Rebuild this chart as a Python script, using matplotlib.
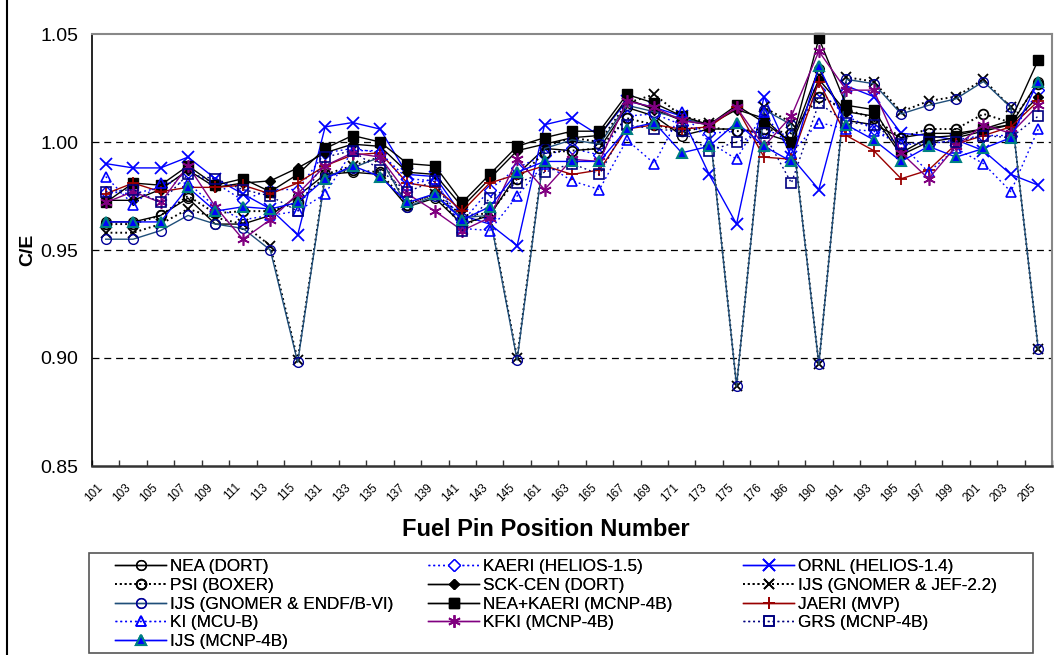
import matplotlib
matplotlib.use('Agg')
import matplotlib.pyplot as plt
from matplotlib.lines import Line2D
from matplotlib.patches import Rectangle

plt.rcParams['font.family'] = ['Liberation Sans', 'DejaVu Sans']
plt.rcParams['lines.scale_dashes'] = False

pins = ['101', '103', '105', '107', '109', '111', '113', '115', '131', '133', '135', '137',
        '139', '141', '143', '145', '161', '163', '165', '167', '169', '171', '173', '175',
        '176', '186', '190', '191', '193', '195', '197', '199', '201', '203', '205']

nea_dort = [0.963, 0.963, 0.966, 0.974, 0.962, 0.962, 0.966, 0.975, 0.985, 0.986, 0.985, 0.970,
            0.974, 0.962, 0.966, 0.985, 0.997, 0.996, 0.997, 1.016, 1.012, 1.003, 1.006, 1.006,
            1.004, 1.000, 1.034, 1.010, 1.008, 1.002, 1.004, 1.004, 1.006, 1.008, 1.028]
kaeri_helios = [0.977, 0.976, 0.979, 0.986, 0.981, 0.973, 0.978, 0.978, 0.995, 0.997, 0.995, 0.983,
                0.982, 0.963, 0.978, 0.988, 0.994, 0.997, 0.994, 1.012, 1.013, 1.008, 1.004, 1.005,
                1.005, 1.003, 1.024, 1.012, 1.006, 0.999, 0.999, 1.001, 1.003, 1.003, 1.024]
ornl_helios = [0.990, 0.988, 0.988, 0.993, 0.983, 0.976, 0.969, 0.957, 1.007, 1.009, 1.006, 0.985,
               0.984, 0.966, 0.962, 0.952, 1.008, 1.011, 1.003, 1.019, 1.016, 1.012, 0.985, 0.962,
               1.021, 0.993, 0.978, 1.026, 1.021, 1.004, 1.003, 1.001, 0.996, 0.985, 0.980]
psi_boxer = [0.962, 0.962, 0.966, 0.975, 0.967, 0.968, 0.968, 0.972, 0.984, 0.987, 0.986, 0.971,
             0.976, 0.961, 0.967, 0.983, 0.995, 0.996, 0.997, 1.011, 1.008, 1.005, 1.007, 1.005,
             1.006, 1.004, 1.021, 1.015, 1.011, 1.002, 1.006, 1.006, 1.013, 1.009, 1.027]
sck_dort = [0.973, 0.973, 0.978, 0.987, 0.979, 0.981, 0.982, 0.988, 0.995, 0.999, 0.998, 0.986,
            0.985, 0.970, 0.983, 0.996, 0.999, 1.002, 1.003, 1.020, 1.015, 1.010, 1.008, 1.015,
            1.011, 0.999, 1.029, 1.014, 1.012, 0.994, 1.000, 1.002, 1.005, 1.008, 1.021]
ijs_jef = [0.958, 0.958, 0.962, 0.969, 0.965, 0.962, 0.952, 0.899, 0.985, 0.989, 0.993, 0.971,
           0.976, 0.966, 0.967, 0.900, 0.998, 1.002, 1.000, 1.018, 1.022, 1.012, 1.009, 0.887,
           1.016, 1.009, 0.897, 1.030, 1.028, 1.014, 1.019, 1.021, 1.029, 1.016, 0.904]
ijs_endf = [0.955, 0.955, 0.959, 0.966, 0.962, 0.960, 0.950, 0.898, 0.984, 0.988, 0.993, 0.970,
            0.975, 0.965, 0.966, 0.899, 0.997, 1.001, 0.999, 1.017, 1.014, 1.011, 1.008, 0.887,
            1.015, 1.008, 0.897, 1.029, 1.027, 1.013, 1.017, 1.020, 1.028, 1.016, 0.904]
nea_kaeri = [0.972, 0.981, 0.980, 0.989, 0.980, 0.983, 0.977, 0.985, 0.997, 1.003, 1.000, 0.990,
             0.989, 0.972, 0.985, 0.998, 1.002, 1.005, 1.005, 1.022, 1.018, 1.012, 1.008, 1.017,
             1.009, 1.000, 1.048, 1.017, 1.015, 0.995, 1.002, 1.003, 1.006, 1.010, 1.038]
jaeri_mvp = [0.976, 0.981, 0.977, 0.979, 0.979, 0.980, 0.976, 0.981, 0.989, 0.994, 0.995, 0.981,
             0.979, 0.968, 0.981, 0.985, 0.989, 0.985, 0.987, 1.006, 1.008, 1.006, 1.007, 1.016,
             0.993, 0.992, 1.028, 1.003, 0.996, 0.983, 0.987, 0.999, 1.003, 1.007, 1.019]
ki_mcu = [0.984, 0.971, 0.981, 0.981, 0.970, 0.964, 0.966, 0.968, 0.976, 0.996, 0.996, 0.980,
          0.983, 0.960, 0.959, 0.975, 0.990, 0.982, 0.978, 1.001, 0.990, 1.014, 1.000, 0.992,
          1.014, 0.995, 1.009, 1.006, 1.005, 0.999, 0.986, 0.997, 0.990, 0.977, 1.006]
kfki_mcnp = [0.972, 0.977, 0.972, 0.989, 0.970, 0.955, 0.964, 0.976, 0.989, 0.995, 0.993, 0.976,
             0.968, 0.959, 0.965, 0.992, 0.978, 0.992, 0.991, 1.019, 1.016, 1.010, 1.008, 1.016,
             0.998, 1.012, 1.042, 1.024, 1.024, 0.995, 0.983, 0.998, 1.008, 1.004, 1.017]
grs_mcnp = [0.977, 0.978, 0.972, 0.985, 0.983, 0.978, 0.975, 0.968, 0.993, 0.996, 0.987, 0.977,
            0.982, 0.959, 0.974, 0.981, 0.986, 0.990, 0.985, 1.008, 1.006, 1.005, 0.996, 1.000,
            1.004, 0.981, 1.018, 1.009, 1.008, 0.999, 1.000, 1.000, 1.003, 1.002, 1.012]
ijs_mcnp = [0.963, 0.963, 0.963, 0.979, 0.968, 0.970, 0.969, 0.972, 0.983, 0.989, 0.984, 0.972,
            0.976, 0.964, 0.970, 0.986, 0.991, 0.991, 0.991, 1.006, 1.009, 0.995, 0.998, 1.009,
            0.998, 0.991, 1.035, 1.008, 1.001, 0.991, 0.998, 0.993, 0.997, 1.002, 1.028]

dot = (0, (1.3, 2.2))
styles = {
    'NEA (DORT)': (nea_dort, dict(color='black', ls='-', marker='o', mfc='none', mec='black', ms=7)),
    'KAERI (HELIOS-1.5)': (kaeri_helios, dict(color='#0000FF', ls=dot, marker='D', mfc='white', mec='#0000FF', ms=6)),
    'ORNL (HELIOS-1.4)': (ornl_helios, dict(color='#0000FF', ls='-', marker='x', mec='#0000FF', ms=8, mew=1.3)),
    'PSI (BOXER)': (psi_boxer, dict(color='black', ls=dot, lw=1.4, marker='o', mfc='none', mec='black', ms=7, mew=1.3)),
    'SCK-CEN (DORT)': (sck_dort, dict(color='black', ls='-', marker='D', mfc='black', mec='black', ms=5.5)),
    'IJS (GNOMER & JEF-2.2)': (ijs_jef, dict(color='black', ls=dot, lw=1.4, marker='x', mec='black', ms=7, mew=1.3)),
    'IJS (GNOMER & ENDF/B-VI)': (ijs_endf, dict(color='#1F4E79', ls='-', marker='o', mfc='none', mec='#000099', ms=7)),
    'NEA+KAERI (MCNP-4B)': (nea_kaeri, dict(color='black', ls='-', marker='s', mfc='black', mec='black', ms=7)),
    'JAERI (MVP)': (jaeri_mvp, dict(color='#990000', ls='-', marker='+', mec='#990000', ms=9, mew=1.3)),
    'KI (MCU-B)': (ki_mcu, dict(color='#0000FF', ls=dot, marker='^', mfc='none', mec='#0000FF', ms=7, mew=1.2)),
    'KFKI (MCNP-4B)': (kfki_mcnp, dict(color='#800080', ls='-', marker=(6, 2, 0), mec='#800080', ms=9, mew=1.2)),
    'GRS (MCNP-4B)': (grs_mcnp, dict(color='#000080', ls=dot, marker='s', mfc='none', mec='#000080', ms=7, mew=1.2)),
    'IJS (MCNP-4B)': (ijs_mcnp, dict(color='#0000FF', ls='-', marker='^', mfc='#0000FF', mec='#008080', ms=7, mew=1.5)),
}

fig = plt.figure(figsize=(10.58, 6.55), dpi=100)
ax = fig.add_axes([92 / 1058, 1 - 466 / 655, 960 / 1058, 432 / 655])

x = list(range(len(pins)))
handles = {}
for name, (vals, st) in styles.items():
    st = dict(st)
    st.setdefault('lw', 1.0)
    line, = ax.plot(x, vals, label=name, clip_on=False, **st)
    handles[name] = line

for yv in [0.90, 0.95, 1.00]:
    ax.axhline(yv, color='black', lw=0.9, ls=(0, (5, 3.5)), zorder=0)

ax.set_xlim(-0.5, len(pins) - 0.5)
ax.set_ylim(0.85, 1.05)
ax.set_yticks([0.85, 0.90, 0.95, 1.00, 1.05])
ax.set_yticklabels(['%.2f' % v for v in [0.85, 0.90, 0.95, 1.00, 1.05]], fontsize=14)
ax.tick_params(axis='y', length=0, pad=10)
ax.set_xticks(x)
ax.set_xticklabels(pins, rotation=45, ha='right', va='top', fontsize=8.5)
ax.tick_params(axis='x', which='major', length=0, pad=11)
ax.set_xticks([i - 0.5 for i in range(len(pins) + 1)], minor=True)
ax.tick_params(axis='x', which='minor', direction='in', length=4, width=1, color='#333333')

for s in ['top', 'right']:
    ax.spines[s].set_color('#888888')
    ax.spines[s].set_linewidth(1.5)
ax.spines['left'].set_color('black')
ax.spines['left'].set_linewidth(1.2)
ax.spines['bottom'].set_color('#333333')
ax.spines['bottom'].set_linewidth(1.8)

ax.set_ylabel('C/E', fontsize=14, fontweight='bold', labelpad=3)
ax.set_xlabel('Fuel Pin Position Number', fontsize=17, fontweight='bold', labelpad=8)
ax.xaxis.set_label_coords(0.473, -0.12)

# legend: three fixed-width columns inside one frame
cols = [
    ['NEA (DORT)', 'PSI (BOXER)', 'IJS (GNOMER & ENDF/B-VI)', 'KI (MCU-B)', 'IJS (MCNP-4B)'],
    ['KAERI (HELIOS-1.5)', 'SCK-CEN (DORT)', 'NEA+KAERI (MCNP-4B)', 'KFKI (MCNP-4B)'],
    ['ORNL (HELIOS-1.4)', 'IJS (GNOMER & JEF-2.2)', 'JAERI (MVP)', 'GRS (MCNP-4B)'],
]
col_x = [115, 428, 743]
for cx, names in zip(col_x, cols):
    leg = fig.legend([handles[n] for n in names], names, loc='upper left',
                     bbox_to_anchor=(cx / 1058, 1 - 559 / 655), frameon=False,
                     fontsize=12.3, borderpad=0, borderaxespad=0, handlelength=3.0,
                     handletextpad=0.22, labelspacing=0.22, numpoints=1)
    fig.add_artist(leg)

fig.add_artist(Rectangle((89 / 1058, 1 - 653 / 655), 944 / 1058, 100 / 655,
                         transform=fig.transFigure, fill=False, ec='#555555', lw=1.2))
fig.add_artist(Line2D([7 / 1058, 7 / 1058], [0, 1], transform=fig.transFigure,
                      color='black', lw=1.5))

fig.savefig('out.png', dpi=100)
